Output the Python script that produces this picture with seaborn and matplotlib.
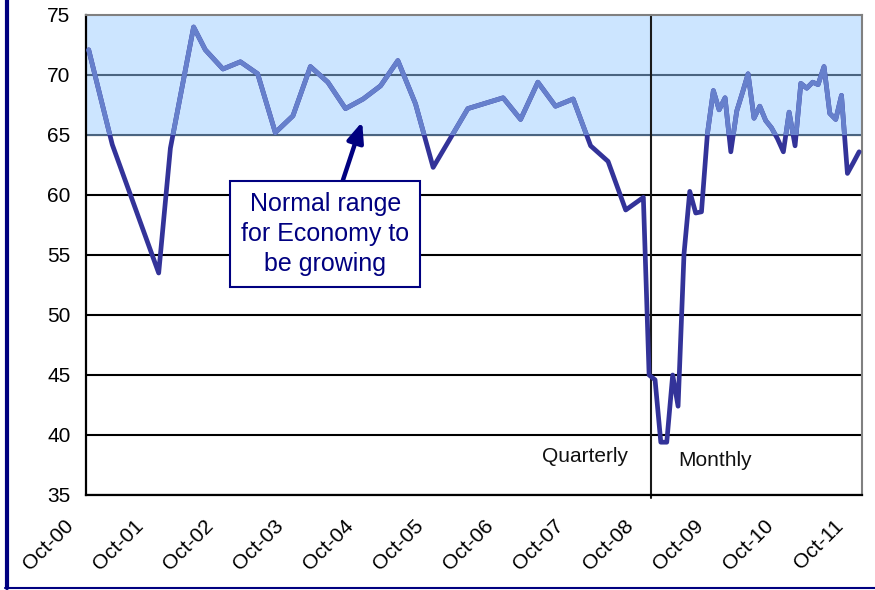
import matplotlib
matplotlib.use("Agg")
import pandas as pd
import matplotlib.pyplot as plt
import matplotlib.transforms as mtransforms
from matplotlib.lines import Line2D
import seaborn as sns

# quarterly readings (mid-month dates), then monthly from Oct-08
quarterly_dates = ["2000-10-15", "2001-02-15", "2001-10-15", "2001-12-15", "2002-04-15",
                   "2002-06-15", "2002-09-15", "2002-12-15", "2003-03-15", "2003-06-15",
                   "2003-09-15", "2003-12-15", "2004-03-15", "2004-06-15", "2004-09-15",
                   "2004-12-15", "2005-03-15", "2005-06-15", "2005-09-15", "2006-03-15",
                   "2006-09-15", "2006-12-15", "2007-03-15", "2007-06-15", "2007-09-15",
                   "2007-12-15", "2008-03-15", "2008-06-15", "2008-09-15"]
quarterly_values = [72.1, 64.2, 53.5, 63.9, 74.0,
                    72.1, 70.5, 71.1, 70.1, 65.2,
                    66.6, 70.7, 69.4, 67.2, 68.0,
                    69.1, 71.2, 67.6, 62.3, 67.2,
                    68.1, 66.3, 69.4, 67.4, 68.0,
                    64.1, 62.8, 58.75, 59.8]

monthly_dates = ["2008-10-15", "2008-11-15", "2008-12-15", "2009-01-15", "2009-02-15",
                 "2009-03-15", "2009-04-15", "2009-05-15", "2009-06-15", "2009-07-15",
                 "2009-08-15", "2009-09-15", "2009-10-15", "2009-11-15", "2009-12-15",
                 "2010-01-15", "2010-02-15", "2010-03-15", "2010-04-15", "2010-05-15",
                 "2010-06-15", "2010-07-15", "2010-08-15", "2010-09-15", "2010-10-15",
                 "2010-11-15", "2010-12-15", "2011-01-15", "2011-02-15", "2011-03-15",
                 "2011-04-15", "2011-05-15", "2011-06-15", "2011-07-15", "2011-08-15",
                 "2011-09-15", "2011-10-15"]
monthly_values = [45.0, 44.6, 39.4, 39.4, 45.0,
                  42.4, 55.1, 60.3, 58.5, 58.6,
                  65.1, 68.7, 67.1, 68.1, 63.6,
                  67.0, 68.6, 70.1, 66.4, 67.4,
                  66.2, 65.6, 64.7, 63.6, 66.9,
                  64.1, 69.3, 68.9, 69.4, 69.2,
                  70.7, 66.8, 66.3, 68.3, 61.8,
                  62.7, 63.6]

ytick_values = [35, 40, 45, 50, 55, 60, 65, 70, 75]
xtick_dates = ["2000-10-01", "2001-10-01", "2002-10-01", "2003-10-01", "2004-10-01", "2005-10-01",
               "2006-10-01", "2007-10-01", "2008-10-01", "2009-10-01", "2010-10-01", "2011-10-01"]
xtick_labels = ["Oct-00", "Oct-01", "Oct-02", "Oct-03", "Oct-04", "Oct-05",
                "Oct-06", "Oct-07", "Oct-08", "Oct-09", "Oct-10", "Oct-11"]

normal_low, normal_high = 65, 75
switch_date = "2008-10-27"   # quarterly -> monthly

df = pd.DataFrame({
    "Date": pd.to_datetime(quarterly_dates + monthly_dates),
    "Value": quarterly_values + monthly_values,
})

dark_blue = "#333399"
light_blue = "#6680CC"
band_blue = "#CCE5FF"
navy = "#000080"

sns.set_style("white")
plt.rcParams['font.family'] = ['Liberation Sans', 'DejaVu Sans']

fig = plt.figure(figsize=(8.75, 5.9), dpi=100)
ax = fig.add_axes([86/875, 1 - 495/590, 776/875, 480/590])

# grid below everything
ax.set_axisbelow(True)
ax.grid(axis="y", color="black", lw=1.5)
ax.grid(axis="x", visible=False)

# normal range band + its gridlines
band = ax.axhspan(normal_low, normal_high, color=band_blue, lw=0, zorder=0.8)
for yv in [65, 70]:
    ax.axhline(yv, color="#4A6480", lw=1.5, zorder=0.9)

# full line in dark blue, then a light copy clipped to the band
sns.lineplot(data=df, x="Date", y="Value", color=dark_blue, lw=3.4, ax=ax,
             solid_joinstyle="round", solid_capstyle="round", zorder=3)
sns.lineplot(data=df, x="Date", y="Value", color=light_blue, lw=3.4, ax=ax,
             solid_joinstyle="round", solid_capstyle="round", zorder=3.1)
ax.lines[-1].set_clip_path(band)

vdate = pd.Timestamp(switch_date)
ax.axvline(vdate, ymin=-0.006, ymax=1, color="#1a1a1a", lw=1.5, zorder=2.5, clip_on=False)

ax.annotate("Quarterly", xy=(vdate, 38.2), xytext=(-23, 0), textcoords="offset pixels",
            ha="right", va="center", fontsize=15, color="#111111")
ax.annotate("Monthly", xy=(vdate, 37.9), xytext=(27, 0), textcoords="offset pixels",
            ha="left", va="center", fontsize=15, color="#111111")

ax.annotate("Normal range\nfor Economy to\nbe growing",
            xy=(pd.Timestamp("2004-09-10"), 66.1),
            xytext=(pd.Timestamp("2004-03-01"), 56.75),
            ha="center", va="center", fontsize=18, color=navy, linespacing=1.3,
            bbox=dict(boxstyle="square,pad=0.45", fc="white", ec=navy, lw=1.5),
            arrowprops=dict(arrowstyle="-|>,head_length=0.6,head_width=0.25",
                            mutation_scale=20, color=navy, lw=3.2,
                            shrinkA=0, shrinkB=0),
            zorder=5)

ax.set_ylim(35, 75)
ax.set_yticks(ytick_values)
ax.set_xlim(pd.Timestamp("2000-10-01"), pd.Timestamp("2011-10-30"))
ax.set_xticks(pd.to_datetime(xtick_dates))
ax.set_xticklabels(xtick_labels, rotation=45, ha="right")
ax.set_xlabel("")
ax.set_ylabel("")

ax.tick_params(axis="both", direction="out", length=4.2, width=1.3, color="black",
               labelsize=15, labelcolor="black")
ax.tick_params(axis="y", pad=7)
ax.tick_params(axis="x", pad=11)

# nudge rotated labels to the left like the original
shift = mtransforms.ScaledTranslation(-0.09, 0, fig.dpi_scale_trans)
for lbl in ax.get_xticklabels():
    lbl.set_transform(lbl.get_transform() + shift)

for side in ["left", "bottom"]:
    ax.spines[side].set_color("black")
    ax.spines[side].set_linewidth(1.6)
for side in ["top", "right"]:
    ax.spines[side].set_color("#808080")
    ax.spines[side].set_linewidth(1.5)

# navy frame pieces on the left and bottom of the picture
fig.add_artist(Line2D([7/875, 7/875], [2/590, 1], transform=fig.transFigure, color=navy, lw=3))
fig.add_artist(Line2D([5/875, 1], [2/590, 2/590], transform=fig.transFigure, color=navy, lw=1.5))

fig.savefig("out.png", dpi=100)
